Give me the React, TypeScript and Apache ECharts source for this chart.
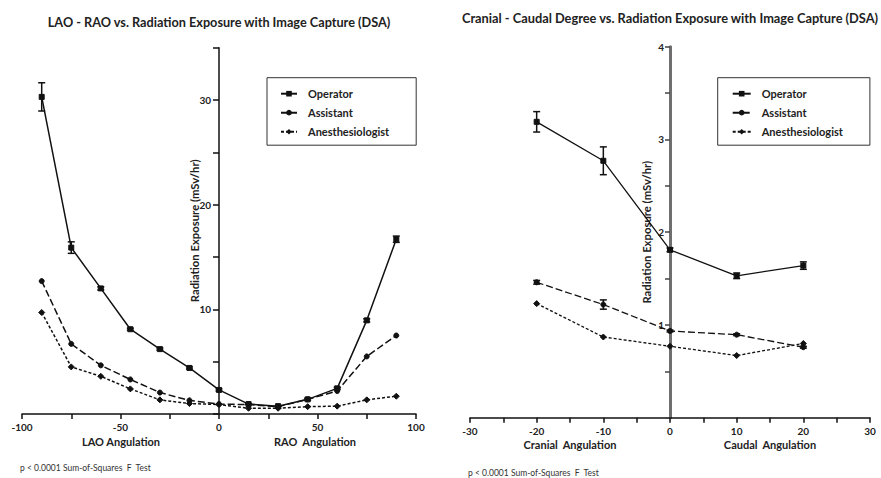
import React, { useEffect, useRef } from "react";
import * as echarts from "echarts";

const seriesNames = ["Operator", "Assistant", "Anesthesiologist"];

// LAO - RAO chart
const lrAngles = [-90, -75, -60, -45, -30, -15, 0, 15, 30, 45, 60, 75, 90];
const lrOperator = [30.3, 15.9, 12.0, 8.1, 6.2, 4.4, 2.3, 0.95, 0.75, 1.4, 2.45, 8.95, 16.7];
const lrOperatorErr = [1.35, 0.55, 0.15, 0.1, 0.1, 0.1, 0.1, 0.05, 0.05, 0.1, 0.1, 0.15, 0.3];
const lrAssistant = [12.7, 6.7, 4.65, 3.3, 2.05, 1.3, 0.95, 0.9, 0.7, 1.4, 2.2, 5.5, 7.5];
const lrAnesth = [9.7, 4.5, 3.6, 2.4, 1.35, 1.0, 0.9, 0.55, 0.55, 0.7, 0.75, 1.35, 1.7];

// Cranial - Caudal chart
const ccAngles = [-20, -10, 0, 10, 20];
const ccOperator = [3.19, 2.77, 1.81, 1.53, 1.64];
const ccOperatorErr = [0.11, 0.15, 0.02, 0.03, 0.04];
const ccAssistant = [1.46, 1.22, 0.935, 0.895, 0.76];
const ccAssistantErr = [0.02, 0.05, 0.01, 0.01, 0.01];
const ccAnesth = [1.23, 0.87, 0.77, 0.67, 0.8];

const FONT = "Lato, 'Open Sans', sans-serif";
const INK = "#111";

const zip = (xs: number[], ys: number[]) => xs.map((x, i) => [x, ys[i]]);
const errData = (xs: number[], ys: number[], es: number[]) =>
  xs.map((x, i) => [x, ys[i] - es[i], ys[i] + es[i]]);

const errorRender = (params: any, api: any) => {
  const x = api.value(0);
  const lo = api.value(1);
  const hi = api.value(2);
  const p1 = api.coord([x, hi]);
  const p2 = api.coord([x, lo]);
  const w = 3.5;
  const style = { stroke: INK, lineWidth: 1.5 };
  return {
    type: "group",
    children: [
      { type: "line", shape: { x1: p1[0], y1: p1[1], x2: p2[0], y2: p2[1] }, style },
      { type: "line", shape: { x1: p1[0] - w, y1: p1[1], x2: p1[0] + w, y2: p1[1] }, style },
      { type: "line", shape: { x1: p2[0] - w, y1: p2[1], x2: p2[0] + w, y2: p2[1] }, style },
    ],
  };
};

const lineSeries = (
  name: string,
  data: number[][],
  idx: number,
  symbol: string,
  size: number,
  type: any,
  width: number
) => ({
  name,
  type: "line",
  data,
  xAxisIndex: idx,
  yAxisIndex: idx,
  symbol,
  symbolSize: size,
  showSymbol: true,
  lineStyle: { color: INK, width, type },
  itemStyle: { color: INK, borderColor: INK },
  z: 3,
});

const legendCfg = (left: number, top: number, itemWidth: number, padding: number[]) => ({
  orient: "vertical",
  left,
  top,
  data: seriesNames,
  itemWidth,
  itemHeight: 7,
  itemGap: 8,
  padding,
  borderColor: "#333",
  borderWidth: 1,
  selectedMode: false,
  textStyle: {
    fontFamily: FONT,
    fontSize: 11,
    fontWeight: "bold",
    color: "#222",
    padding: [0, 0, 0, 6],
  },
});

export default function App() {
  const ref = useRef<HTMLDivElement>(null);
  useEffect(() => {
    if (!ref.current) return;
    const chart = echarts.init(ref.current, undefined, { renderer: "svg" });
    const axisLabelBase = { fontFamily: FONT, fontSize: 10, fontWeight: "bold", color: "#222" };
    const nameStyle = { fontFamily: FONT, fontSize: 11.3, fontWeight: "bold", color: "#222" };
    const option: any = {
      animation: false,
      backgroundColor: "#fff",
      grid: [
        { left: 22, right: 465, top: 47.7, bottom: 64, outerBoundsMode: "none", containLabel: false },
        { left: 470, right: 11, top: 46.7, bottom: 60.3, outerBoundsMode: "none", containLabel: false },
      ],
      legend: [
        legendCfg(267, 77.7, 16, [10.5, 27, 8, 13]),
        legendCfg(717.7, 77.7, 18, [10.5, 27, 8, 14]),
      ],
      xAxis: [
        {
          type: "value",
          gridIndex: 0,
          min: -100,
          max: 100,
          interval: 25,
          splitLine: { show: false },
          axisLine: { onZero: false, lineStyle: { color: INK, width: 1.5 } },
          axisTick: { length: 5, lineStyle: { color: INK, width: 1.5 } },
          axisLabel: {
            ...axisLabelBase,
            margin: 8,
            showMaxLabel: true,
            showMinLabel: true,
            formatter: (v: number) => (v % 50 === 0 ? String(v) : ""),
          },
        },
        {
          type: "value",
          gridIndex: 1,
          min: -30,
          max: 30,
          interval: 5,
          splitLine: { show: false },
          axisLine: { onZero: false, lineStyle: { color: INK, width: 1.5 } },
          axisTick: { length: 5, lineStyle: { color: INK, width: 1.5 } },
          axisLabel: {
            ...axisLabelBase,
            margin: 8,
            formatter: (v: number) => (v % 10 === 0 ? String(v) : ""),
          },
        },
      ],
      yAxis: [
        {
          type: "value",
          gridIndex: 0,
          min: 0,
          max: 35,
          interval: 5,
          offset: -197,
          splitLine: { show: false },
          axisLine: { onZero: false, lineStyle: { color: INK, width: 1.5 } },
          axisTick: { length: 6, lineStyle: { color: INK, width: 1.5 } },
          axisLabel: {
            ...axisLabelBase,
            margin: 8,
            formatter: (v: number) => (v % 10 === 0 && v > 0 ? String(v) : ""),
          },
          name: "Radiation Exposure (mSv/hr)",
          nameLocation: "middle",
          nameRotate: 90,
          nameGap: 19,
          nameMoveOverlap: false,
          nameTextStyle: nameStyle,
        },
        {
          type: "value",
          gridIndex: 1,
          min: 0,
          max: 4,
          interval: 0.5,
          offset: -200,
          splitLine: { show: false },
          axisLine: { onZero: false, lineStyle: { color: "#6f6f6f", width: 3 } },
          axisTick: { length: 5, lineStyle: { color: "#444", width: 1.5 } },
          axisLabel: {
            ...axisLabelBase,
            margin: 6,
            formatter: (v: number) => (Number.isInteger(v) && v > 0 ? String(v) : ""),
          },
          name: "Radiation Exposure (mSv/hr)",
          nameLocation: "middle",
          nameRotate: 90,
          nameGap: 18,
          nameMoveOverlap: false,
          nameTextStyle: nameStyle,
        },
      ],
      series: [
        lineSeries("Operator", zip(lrAngles, lrOperator), 0, "rect", 5, "solid", 1.5),
        lineSeries("Assistant", zip(lrAngles, lrAssistant), 0, "circle", 5, [7, 3], 1.5),
        lineSeries("Anesthesiologist", zip(lrAngles, lrAnesth), 0, "diamond", 6, [3, 2], 1.5),
        {
          type: "custom",
          xAxisIndex: 0,
          yAxisIndex: 0,
          renderItem: errorRender,
          data: errData(lrAngles, lrOperator, lrOperatorErr),
          encode: { x: 0, y: [1, 2] },
          z: 4,
        },
        lineSeries("Operator", zip(ccAngles, ccOperator), 1, "rect", 5, "solid", 1.3),
        lineSeries("Assistant", zip(ccAngles, ccAssistant), 1, "circle", 5, [7, 3], 1.3),
        lineSeries("Anesthesiologist", zip(ccAngles, ccAnesth), 1, "diamond", 6, [3, 2], 1.3),
        {
          type: "custom",
          xAxisIndex: 1,
          yAxisIndex: 1,
          renderItem: errorRender,
          data: errData(ccAngles, ccOperator, ccOperatorErr),
          encode: { x: 0, y: [1, 2] },
          z: 4,
        },
        {
          type: "custom",
          xAxisIndex: 1,
          yAxisIndex: 1,
          renderItem: errorRender,
          data: errData(ccAngles, ccAssistant, ccAssistantErr),
          encode: { x: 0, y: [1, 2] },
          z: 4,
        },
      ],
      graphic: [
        {
          type: "text",
          x: 219,
          y: 22,
          style: {
            text: "LAO - RAO vs. Radiation Exposure with Image Capture (DSA)",
            fontFamily: FONT,
            fontSize: 12.7,
            fontWeight: "bold",
            fill: "#222",
            textAlign: "center",
            textVerticalAlign: "middle",
          },
        },
        {
          type: "text",
          x: 670,
          y: 18,
          style: {
            text: "Cranial - Caudal Degree vs. Radiation Exposure with Image Capture (DSA)",
            fontFamily: FONT,
            fontSize: 12.8,
            fontWeight: "bold",
            fill: "#222",
            textAlign: "center",
            textVerticalAlign: "middle",
          },
        },
        ...[
          ["LAO Angulation", 121, 441],
          ["RAO  Angulation", 315, 441],
          ["Cranial  Angulation", 570, 444],
          ["Caudal  Angulation", 770, 444],
        ].map(([t, x, y]) => ({
          type: "text",
          x,
          y,
          style: {
            text: t,
            fontFamily: FONT,
            fontSize: 11,
            fontWeight: "bold",
            fill: "#222",
            textAlign: "center",
            textVerticalAlign: "middle",
          },
        })),
        ...[
          [20, 468],
          [468, 473],
        ].map(([x, y]) => ({
          type: "text",
          x,
          y,
          style: {
            text: "p < 0.0001 Sum-of-Squares  F  Test",
            fontFamily: FONT,
            fontSize: 8.5,
            fill: "#333",
            textAlign: "left",
            textVerticalAlign: "middle",
          },
        })),
      ],
    };
    chart.setOption(option);
    return () => chart.dispose();
  }, []);
  return <div ref={ref} style={{ width: 881, height: 478, position: "absolute", left: 0, top: 0 }} />;
}
